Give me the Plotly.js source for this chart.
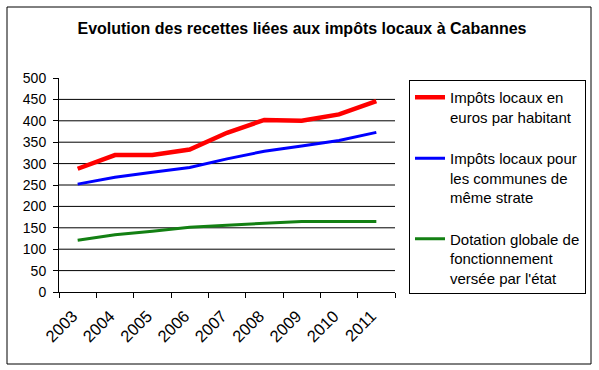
<!DOCTYPE html>
<html>
<head>
<meta charset="utf-8">
<script src="https://cdn.plot.ly/plotly-3.0.1.min.js"></script>
<style>html,body{margin:0;padding:0;background:#fff;}#chart{width:599px;height:370px;}</style>
</head>
<body>
<div id="chart"></div>
<script>
var years = ["2003","2004","2005","2006","2007","2008","2009","2010","2011"];
var impotsHabitant = [288, 320, 320, 333, 372, 402, 400, 415, 446];
var impotsStrate = [252, 268, 280, 291, 311, 329, 341, 354, 373];
var dotation = [121, 134, 142, 151, 156, 161, 165, 165, 165];
var seriesNames = [
  "Impôts locaux en<br>euros par habitant",
  "Impôts locaux pour<br>les communes de<br>même strate",
  "Dotation globale de<br>fonctionnement<br>versée par l'état"
];
var yTicks = [0, 50, 100, 150, 200, 250, 300, 350, 400, 450, 500];
var gridValues = [50, 100, 150, 200, 250, 300, 350, 400, 450];

var font = "Liberation Sans, Arial, sans-serif";

var traces = [
  {x: years, y: impotsHabitant, name: seriesNames[0], type: "scatter", mode: "lines",
   line: {color: "#ff0000", width: 4.5}, legendgroup: "a"},
  {x: years, y: impotsStrate, name: seriesNames[1], type: "scatter", mode: "lines",
   line: {color: "#0000ff", width: 3}, legendgroup: "b"},
  {x: years, y: dotation, name: seriesNames[2], type: "scatter", mode: "lines",
   line: {color: "#138013", width: 3}, legendgroup: "c"}
];

var shapes = gridValues.map(function(v){
  return {type: "line", xref: "paper", yref: "y", x0: 0, x1: 1, y0: v, y1: v,
          line: {color: "#000", width: 1}, layer: "below"};
});
shapes.push({type: "rect", xref: "paper", yref: "paper",
  x0: (7-59)/336, x1: (591-59)/336, y0: (292-364)/214, y1: (292-7)/214,
  line: {color: "#000", width: 1}, fillcolor: "rgba(0,0,0,0)", layer: "below"});

var layout = {
  width: 599, height: 370,
  margin: {l: 59, r: 204, t: 78, b: 78, pad: 0},
  paper_bgcolor: "#fff", plot_bgcolor: "#fff",
  font: {family: font, size: 14, color: "#000"},
  title: {text: "<b>Evolution des recettes liées aux impôts locaux à Cabannes</b>",
          font: {family: font, size: 16, color: "#000"},
          x: 302/599, xref: "container", xanchor: "center", y: 1 - 28/370, yref: "container", yanchor: "middle"},
  showlegend: true,
  legend: {x: (409-59)/336, xanchor: "left", y: (292-80)/214, yanchor: "top",
           bordercolor: "#000", borderwidth: 1, bgcolor: "#fff",
           font: {family: font, size: 15, color: "#000"},
           valign: "top", tracegroupgap: 19, traceorder: "grouped"},
  xaxis: {type: "category", range: [-0.5, 8.5], tickson: "boundaries",
          ticks: "outside", ticklen: 5, tickcolor: "#000", tickwidth: 1,
          showline: true, linecolor: "#000", linewidth: 1,
          showgrid: false, zeroline: false, tickangle: -45,
          ticklabelstandoff: 7, ticklabelshift: -5,
          tickfont: {family: font, size: 16.5, color: "#000"}, fixedrange: true},
  yaxis: {range: [0, 500], tickvals: yTicks, ticktext: yTicks.map(String),
          ticks: "outside", ticklen: 5, tickcolor: "#000", tickwidth: 1,
          showline: true, linecolor: "#000", linewidth: 1,
          showgrid: false, zeroline: false, ticklabelstandoff: 4,
          tickfont: {family: font, size: 14, color: "#000"}, fixedrange: true},
  shapes: shapes
};

Plotly.newPlot("chart", traces, layout, {displayModeBar: false, staticPlot: true});
</script>
</body>
</html>
